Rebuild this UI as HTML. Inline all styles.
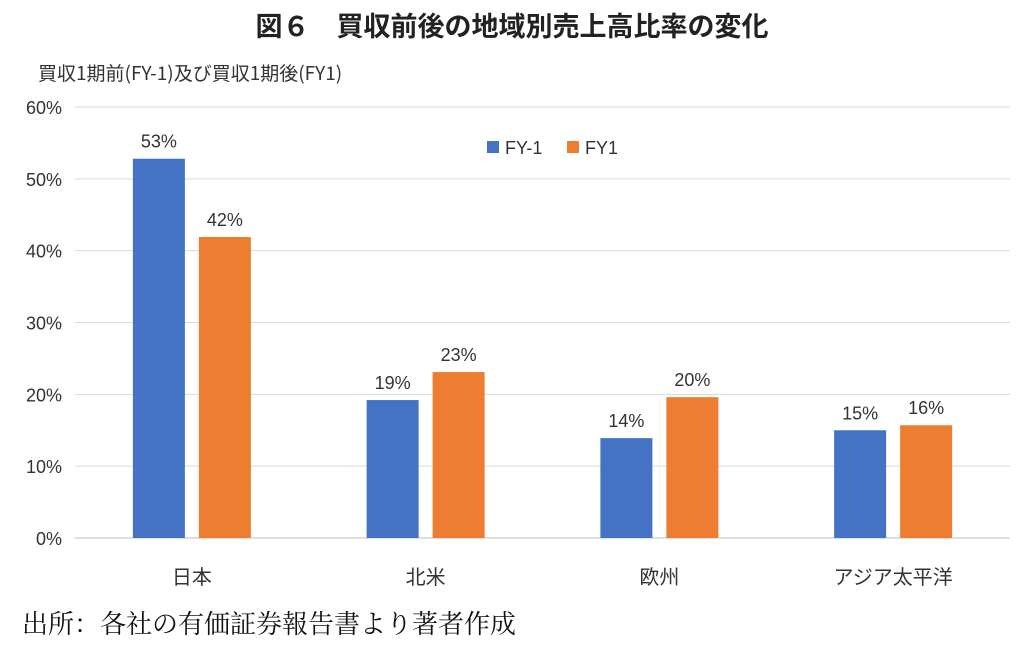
<!DOCTYPE html>
<html><head><meta charset="utf-8"><style>
body{margin:0;background:#fff;}
svg text{font-family:"Liberation Sans","Noto Sans CJK JP",sans-serif;}
</style></head><body>
<svg width="1024" height="650" xmlns="http://www.w3.org/2000/svg">
<rect width="1024" height="650" fill="#fff"/>
<text x="512" y="36" text-anchor="middle" font-size="27" font-weight="bold" fill="#222" style="font-family:'Noto Sans CJK JP',sans-serif">図６　買収前後の地域別売上高比率の変化</text>
<text x="38" y="80" font-size="19" fill="#333" style="font-family:'Noto Sans CJK JP',sans-serif">買収1期前(FY-1)及び買収1期後(FY1)</text>
<g id="grid"></g><g id="bars"></g>
<g>
<rect x="487" y="141" width="12" height="12" fill="#4472c4"/>
<text x="505" y="154" font-size="18" fill="#333">FY-1</text>
<rect x="567" y="141" width="12" height="12" fill="#ed7d31"/>
<text x="585" y="154" font-size="18" fill="#333">FY1</text>
</g>
<text x="22" y="633" font-size="26" fill="#111" style="font-family:'Noto Serif CJK SC',serif">出所：各社の有価証券報告書より著者作成</text>
</svg>
<script>
const categories=["日本","北米","欧州","アジア太平洋"];
const fyPrev=[52.8,19.2,13.9,15.0];
const fyNext=[41.9,23.1,19.6,15.7];
const yTicks=[0,10,20,30,40,50,60];
const NS="http://www.w3.org/2000/svg";
const x0=75,x1=1010,yBase=538,yTop=107,yMax=60;
const y=v=>yBase-(yBase-yTop)*v/yMax;
const bw=(x1-x0)/categories.length;
const cx=i=>x0+bw*(i+0.5);
function mk(tag,attrs,parent,text){const e=document.createElementNS(NS,tag);for(const k in attrs)e.setAttribute(k,attrs[k]);if(text!==undefined)e.textContent=text;parent.appendChild(e);return e;}
const grid=document.getElementById('grid'),bars=document.getElementById('bars');
yTicks.forEach(t=>{
 const l=mk('line',{x1:x0,x2:x1,y1:y(t),y2:y(t),stroke:t===0?'#bfbfbf':'#d9d9d9','stroke-width':1},grid);
 
 
 const tx=mk('text',{x:62,y:y(t)+7,'text-anchor':'end','font-size':18,fill:'#333'},grid,t+'%');
 
 
});
const w=52,gap=14;
categories.forEach((c,i)=>{
 [[fyPrev,'#4472c4',-1,'fy-1'],[fyNext,'#ed7d31',1,'fy1']].forEach(([arr,col,s,nm])=>{
  const v=arr[i];
  const bx=s<0?cx(i)-gap/2-w:cx(i)+gap/2;
  const r=mk('rect',{x:bx,y:y(v),width:w,height:yBase-y(v),fill:col},bars);
  
  
  const t=mk('text',{x:bx+w/2,y:y(v)-11,'text-anchor':'middle','font-size':18,fill:'#333'},bars,Math.round(v)+'%');
  
  
 });
 const ct=mk('text',{x:cx(i),y:584,'text-anchor':'middle','font-size':20,fill:'#333'},bars,c);
 
 
});
</script>
</body></html>
